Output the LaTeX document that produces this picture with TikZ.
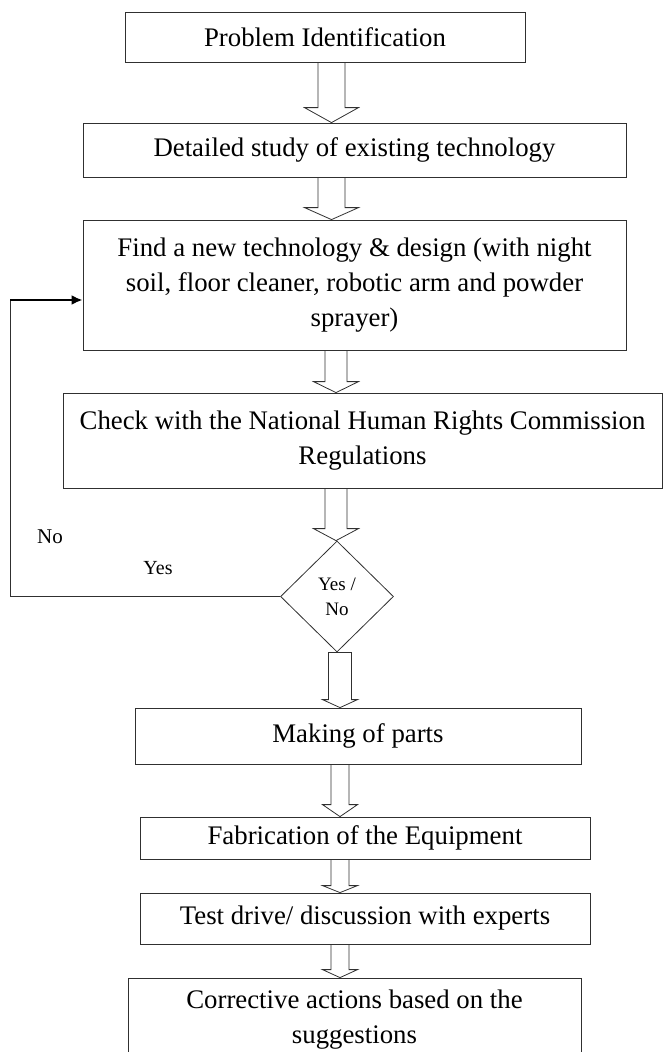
\documentclass[tikz,border=0pt]{standalone}
\usepackage{fontspec}
\setmainfont{Liberation Serif}
\usetikzlibrary{shapes.geometric,calc,arrows.meta}
\definecolor{lineaG}{HTML}{303030}

\begin{document}
\begin{tikzpicture}[x=1pt,y=-1pt,
  caja/.style={draw=lineaG,line width=0.8pt,inner sep=0pt,align=center,
    font=\fontsize{26.8}{35}\selectfont},
  decide/.style={draw=lineaG,line width=0.8pt,diamond,inner sep=0pt,
    minimum width=113pt,minimum height=111pt,align=center,
    font=\fontsize{19}{25}\selectfont},
  fat/.style n args={3}{draw=lineaG,line width=0.8pt,to path={
    let \p1=(\tikztostart),\p2=(\tikztotarget) in
    (\x1-#1,\y1) -- (\x1-#1,\y2+#3) -- (\x1-#2,\y2+#3) -- (\x2,\y2)
    -- (\x1+#2,\y2+#3) -- (\x1+#1,\y2+#3) -- (\x1+#1,\y1) -- cycle}}]
  \useasboundingbox (0,0) rectangle (663,1052);
  \node[caja,minimum width=400pt,minimum height=50pt] (ident) at (325,37) {Problem Identification};
  \node[caja,minimum width=543pt,minimum height=54pt] (estudio) at (354.5,150) {Detailed study of existing technology};
  \node[caja,minimum width=543pt,minimum height=130pt] (diseno) at (354.5,285)
    {Find a new technology \& design (with night\\ soil, floor cleaner, robotic arm and powder\\ sprayer)};
  \node[caja,minimum width=599pt,minimum height=95pt] (norma) at (362.5,440.5)
    {Check with the National Human Rights Commission\\ Regulations};
  \node[decide] (sino) at (337,596.5) {Yes /\\ No};
  \node[caja,minimum width=446pt,minimum height=56pt] (partes) at (358,736) {Making of parts};
  \node[caja,minimum width=450pt,minimum height=42pt] (fabrica) at (365,838) {Fabrication of the Equipment};
  \node[caja,minimum width=450pt,minimum height=51pt] (prueba) at (365,918.5) {Test drive/ discussion with experts};
  \node[caja,minimum width=453pt,minimum height=83pt] (correc) at (354.5,1019.5)
    {Corrective actions based on the\\ suggestions};
  \node[font=\fontsize{21}{21}\selectfont] (lbno) at (50,537) {No};
  \node[font=\fontsize{20}{20}\selectfont] (lbsi) at (158,568) {Yes};

  \coordinate (ejeA) at (331.5,0);
  \coordinate (ejeB) at (336,0);
  \coordinate (ejeC) at (340,0);
  \coordinate (vuelta) at (10,300);
  \draw[fat={13.5pt}{27pt}{15pt}] (ident.south -| ejeA) to (estudio.north -| ejeA);
  \draw[fat={13.5pt}{27pt}{12pt}] (estudio.south -| ejeA) to (diseno.north -| ejeA);
  \draw[fat={11pt}{22.5pt}{11pt}] (diseno.south -| ejeB) to (norma.north -| ejeB);
  \draw[fat={11pt}{22.5pt}{12pt}] (norma.south -| ejeB) to (sino.north -| ejeB);
  \draw[fat={11.5pt}{17.5pt}{8pt}] (sino.south -| ejeC) to (partes.north -| ejeC);
  \draw[fat={9pt}{17.5pt}{12pt}] (partes.south -| ejeC) to (fabrica.north -| ejeC);
  \draw[fat={9pt}{17.5pt}{7pt}] (fabrica.south -| ejeC) to (prueba.north -| ejeC);
  \draw[fat={9pt}{17.5pt}{8pt}] (prueba.south -| ejeC) to (correc.north -| ejeC);

  \draw[lineaG,line width=0.9pt] (sino.west) -| (vuelta);
  \draw[line width=2.4pt,-{Latex[length=11pt,width=10pt]}] (vuelta) -- (diseno.west |- vuelta);
\end{tikzpicture}
\end{document}
